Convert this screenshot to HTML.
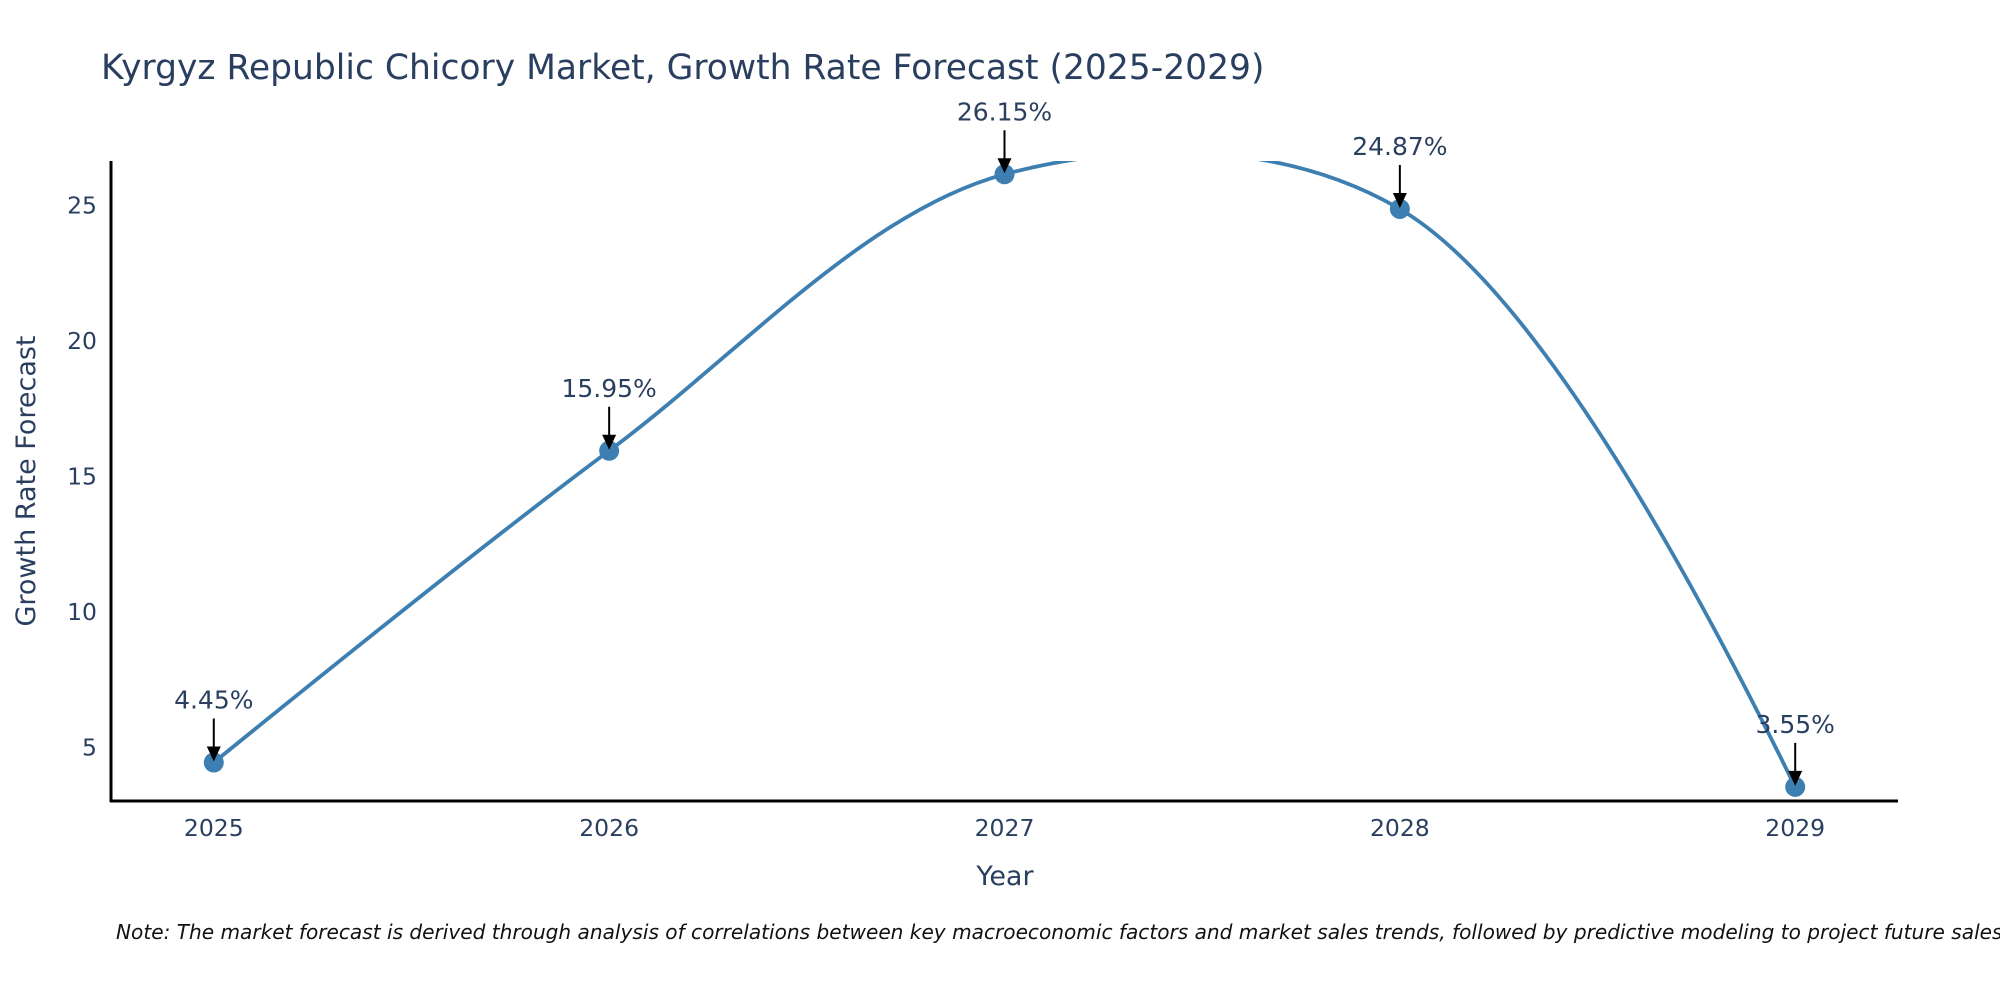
<!DOCTYPE html>
<html><head><meta charset="utf-8"><style>
html,body{margin:0;padding:0;background:#fff;}
svg{display:block;font-family:"DejaVu Sans","Liberation Sans",sans-serif;}
</style></head><body>
<svg id="chart" width="2000" height="1000" viewBox="0 0 2000 1000">
<defs>
<clipPath id="plotclip"><rect x="111" y="161" width="1787" height="640"/></clipPath>
</defs>
<text x="101" y="79" font-size="34.5" fill="#2a3f5f">Kyrgyz Republic Chicory Market, Growth Rate Forecast (2025-2029)</text>
<g id="yticks"></g>
<g id="xticks"></g>
<g clip-path="url(#plotclip)"><path id="line" fill="none" stroke="#3d7fb0" stroke-width="3.8"/></g>
<g id="points"></g>
<g id="annots"></g>
<line x1="111" y1="161" x2="111" y2="802" stroke="#000" stroke-width="3"/>
<line x1="110" y1="801" x2="1898" y2="801" stroke="#000" stroke-width="3"/>
<text x="1005" y="885" font-size="27" fill="#2a3f5f" text-anchor="middle">Year</text>
<text transform="translate(35,481) rotate(-90)" font-size="27" fill="#2a3f5f" text-anchor="middle">Growth Rate Forecast</text>
<text x="116" y="939" font-size="20.1" font-style="italic" fill="#111">Note: The market forecast is derived through analysis of correlations between key macroeconomic factors and market sales trends, followed by predictive modeling to project future sales.</text>
</svg>
<script>
const years = [2025, 2026, 2027, 2028, 2029];
const growth = [4.45, 15.95, 26.15, 24.87, 3.55];
const labels = ["4.45%", "15.95%", "26.15%", "24.87%", "3.55%"];
const yTickValues = [5, 10, 15, 20, 25];

const X0 = 111, X1 = 1898, XMIN = 2024.74, XMAX = 2029.26;
const Y0 = 801, Y1 = 161, YMIN = 3.03, YMAX = 26.64;
function xs(v){ return X0 + (v - XMIN) / (XMAX - XMIN) * (X1 - X0); }
function ys(v){ return Y0 - (v - YMIN) / (YMAX - YMIN) * (Y0 - Y1); }
const NS = "http://www.w3.org/2000/svg";
function mk(tag, attrs, parent){ const e = document.createElementNS(NS, tag); for (const k in attrs) e.setAttribute(k, attrs[k]); parent.appendChild(e); return e; }

const yt = document.getElementById('yticks');
yTickValues.forEach(v => {
  const t = mk('text', {x: 97, y: ys(v) + 8, 'font-size': 23.5, fill: '#2a3f5f', 'text-anchor': 'end'}, yt);
  t.textContent = v;
  
  
});
const xt = document.getElementById('xticks');
years.forEach(v => {
  const t = mk('text', {x: xs(v), y: 836, 'font-size': 23.5, fill: '#2a3f5f', 'text-anchor': 'middle'}, xt);
  t.textContent = v;
  
  
});

// plotly-style spline
const pts = years.map((y, i) => [xs(y), ys(growth[i])]);
const sm = 1.0;
function tangent(p, c, n){
  const dxa = p[0]-c[0], dya = p[1]-c[1], dxb = n[0]-c[0], dyb = n[1]-c[1];
  const d1a = Math.pow(dxa*dxa+dya*dya, 0.25), d1b = Math.pow(dxb*dxb+dyb*dyb, 0.25);
  const numx = (d1b*d1b*dxa - d1a*d1a*dxb)*sm, numy = (d1b*d1b*dya - d1a*d1a*dyb)*sm;
  const den1 = 3*d1b*(d1a+d1b), den2 = 3*d1a*(d1a+d1b);
  return [[c[0]+numx/den1, c[1]+numy/den1], [c[0]-numx/den2, c[1]-numy/den2]];
}
const tg = [];
for (let i = 1; i < pts.length-1; i++) tg.push(tangent(pts[i-1], pts[i], pts[i+1]));
let d = 'M' + pts[0] + 'Q' + tg[0][0] + ' ' + pts[1];
for (let i = 2; i < pts.length-1; i++) d += 'C' + tg[i-2][1] + ' ' + tg[i-1][0] + ' ' + pts[i];
d += 'Q' + tg[tg.length-1][1] + ' ' + pts[pts.length-1];
document.getElementById('line').setAttribute('d', d);

const pg = document.getElementById('points');
const ag = document.getElementById('annots');
pts.forEach((p, i) => {
  const c = mk('circle', {cx: p[0], cy: p[1], r: 10, fill: '#3d7fb0'}, pg);
  
  
  const l = mk('line', {x1: p[0], y1: p[1]-44, x2: p[0], y2: p[1]-14, stroke: '#000', 'stroke-width': 2}, ag);
  
  
  const h = mk('polygon', {points: (p[0]-7)+','+(p[1]-16)+' '+(p[0]+7)+','+(p[1]-16)+' '+p[0]+','+(p[1]-1)}, ag);
  h.setAttribute('fill', '#000');
  
  
  const t = mk('text', {x: p[0], y: p[1]-54, 'font-size': 25, fill: '#2a3f5f', 'text-anchor': 'middle'}, ag);
  t.textContent = labels[i];
  
  
});
</script>
</body></html>
